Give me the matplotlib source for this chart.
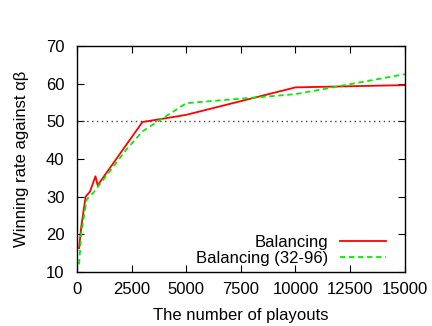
import matplotlib
matplotlib.use('Agg')
import matplotlib.pyplot as plt

plt.rcParams['font.family'] = ['Liberation Sans', 'DejaVu Sans']

# playouts and winning rates
playouts_bal = [100, 200, 400, 600, 850, 950, 3000, 5000, 10000, 15000]
rate_bal = [16.3, 22.0, 30.0, 31.3, 35.4, 33.0, 49.8, 51.7, 59.0, 59.6]

playouts_bal3296 = [100, 200, 450, 750, 2250, 3000, 5000, 10000, 15000]
rate_bal3296 = [12.0, 20.3, 29.3, 31.0, 42.4, 47.3, 54.8, 57.2, 62.5]

xticks = [0, 2500, 5000, 7500, 10000, 12500, 15000]
yticks = [10, 20, 30, 40, 50, 60, 70]

fig = plt.figure(figsize=(4.32, 3.26), dpi=100)
ax = fig.add_axes([0.178, 0.166, 0.759, 0.693])

ax.axhline(50, color='#444444', linestyle=(0, (1, 2.5)), linewidth=1.0)
ax.plot(playouts_bal, rate_bal, '-', color='#ff0000', linewidth=1.3,
        label='Balancing')
ax.plot(playouts_bal3296, rate_bal3296, '--', color='#00ee00', linewidth=1.3,
        dashes=(3, 2), label='Balancing (32-96)')

ax.set_xlim(0, 15000)
ax.set_ylim(10, 70)
ax.set_xticks(xticks)
ax.set_yticks(yticks)
ax.tick_params(direction='in', top=True, right=True, labelsize=12,
               length=5, width=0.8)
ax.tick_params(axis='y', pad=9)
ax.tick_params(axis='x', pad=7)
for s in ax.spines.values():
    s.set_linewidth(1.0)

ax.set_xlabel('The number of playouts', fontsize=12, labelpad=8)
ax.set_ylabel('Winning rate against αβ', fontsize=12, labelpad=12)

ax.legend(loc='lower right', bbox_to_anchor=(0.954, 0.011), frameon=False,
          markerfirst=False, fontsize=12, handlelength=2.8,
          handletextpad=0.7, labelspacing=0.05, borderaxespad=0,
          borderpad=0.2)

fig.savefig('out.png', dpi=100)
